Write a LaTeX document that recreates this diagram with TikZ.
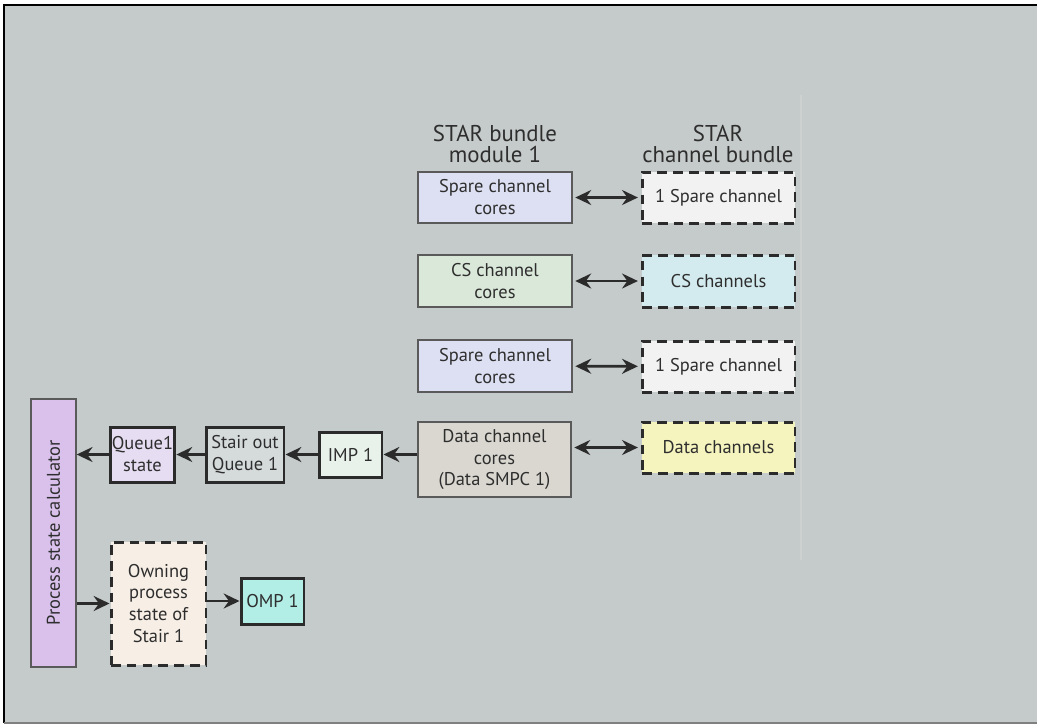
\documentclass[tikz,border=0pt]{standalone}
\usepackage{fontspec}
\setmainfont{PT Sans}
\usetikzlibrary{arrows.meta}

\definecolor{panelbg}{HTML}{C5CBCA}
\definecolor{faintline}{HTML}{CDD2D1}
\definecolor{boxgray}{HTML}{5A5A5A}
\definecolor{boxdark}{HTML}{2B2B2B}
\definecolor{txtgray}{HTML}{2E2E2E}
\definecolor{spareblue}{HTML}{DDE0F2}
\definecolor{csgreen}{HTML}{DAE8D9}
\definecolor{datataupe}{HTML}{DAD7D0}
\definecolor{sparewhite}{HTML}{F2F2F2}
\definecolor{cscyan}{HTML}{D3EAEE}
\definecolor{datayellow}{HTML}{F5F3BE}
\definecolor{calcviolet}{HTML}{D9C1EC}
\definecolor{queuelilac}{HTML}{E6DDF2}
\definecolor{stairgray}{HTML}{D5DADB}
\definecolor{impmint}{HTML}{E8F2EA}
\definecolor{owncream}{HTML}{F7EFE6}
\definecolor{ompaqua}{HTML}{B2EDE6}

\begin{document}
\begin{tikzpicture}[x=0.02cm,y=-0.02cm,
    thinbox/.style={draw=boxgray,line width=0.8pt,align=center,text=txtgray,
      inner sep=1pt,font=\fontsize{10.5}{12.5}\selectfont},
    thickbox/.style={thinbox,draw=boxdark,line width=1.7pt},
    dashbox/.style={thickbox,dash pattern=on 5.5pt off 3.5pt},
    heading/.style={align=center,text=txtgray,font=\fontsize{13}{12.5}\selectfont},
    arr/.style={-{Stealth[length=9pt,width=8.5pt,inset=3pt]},line width=1.5pt,draw=boxdark},
    dblarr/.style={arr,{Stealth[length=9pt,width=8.5pt,inset=3pt]}-{Stealth[length=9pt,width=8.5pt,inset=3pt]},
      shorten <=1.5pt,shorten >=1.5pt}
  ]
  \useasboundingbox (0,0) rectangle (1037,725);
  % panel
  \fill[panelbg] (4,5) rectangle (1037,723);
  \draw[line width=1.5pt] (4,723) -- (4,5) -- (1037,5);
  \draw[gray,line width=0.8pt] (4,723) -- (1037,723);
  \draw[faintline,line width=0.6pt] (801,95) -- (801,560);

  % column headings
  \node[heading] (hmod) at (495,144) {STAR bundle\\module 1};
  \node[heading] (hbun) at (718,144) {STAR\\channel bundle};

  % bundle module cores
  \node[thinbox,fill=spareblue,minimum width=3.08cm,minimum height=1.02cm] (spc1) at (495,197.5) {Spare channel\\cores};
  \node[thinbox,fill=csgreen,minimum width=3.08cm,minimum height=1.04cm] (csc) at (495,281) {CS channel\\cores};
  \node[thinbox,fill=spareblue,minimum width=3.08cm,minimum height=1.04cm] (spc2) at (495,366) {Spare channel\\cores};
  \node[thinbox,fill=datataupe,minimum width=3.06cm,minimum height=1.5cm] (dcc) at (494.5,459.5) {Data channel\\cores\\(Data SMPC 1)};

  % channel bundle
  \node[dashbox,fill=sparewhite,minimum width=3.06cm,minimum height=1.02cm] (spch1) at (718.5,197.5) {1 Spare channel};
  \node[dashbox,fill=cscyan,minimum width=3.06cm,minimum height=1.04cm] (csch) at (718.5,281) {CS channels};
  \node[dashbox,fill=sparewhite,minimum width=3.06cm,minimum height=1.02cm] (spch2) at (718.5,366.5) {1 Spare channel};
  \node[dashbox,fill=datayellow,minimum width=3.06cm,minimum height=1.02cm] (dch) at (718.5,447.5) {Data channels};

  % process chain
  \node[thinbox,fill=calcviolet,rotate=90,minimum width=5.36cm,minimum height=0.9cm] (psc) at (53.5,533) {Process state calculator};
  \node[thickbox,fill=queuelilac,minimum width=1.26cm,minimum height=1.1cm] (q1) at (142.5,454.5) {Queue1\\state};
  \node[thickbox,fill=stairgray,minimum width=1.56cm,minimum height=1.1cm] (soq) at (245,454.5) {Stair out\\Queue 1};
  \node[thickbox,fill=impmint,minimum width=1.26cm,minimum height=0.9cm] (imp) at (350.5,454.5) {IMP 1};
  \node[dashbox,fill=owncream,minimum width=1.9cm,minimum height=2.46cm] (own) at (158.5,603.5) {Owning\\process\\state of\\Stair 1};
  \node[thickbox,fill=ompaqua,minimum width=1.26cm,minimum height=0.92cm] (omp) at (272.5,601) {OMP 1};

  % connectors
  \draw[dblarr] (spc1) -- (spch1);
  \draw[dblarr] (csc) -- (csch);
  \draw[dblarr] (spc2) -- (spch2);
  \draw[dblarr] (dcc.east |- dch) -- (dch);
  \draw[arr] (dcc.west |- imp) -- (imp);
  \draw[arr] (imp) -- (soq);
  \draw[arr] (soq) -- (q1);
  \draw[arr] (q1) -- (q1 -| psc.south);
  \draw[arr] (psc.south |- own) -- (own);
  \draw[arr] (own.east |- omp) -- (omp);
\end{tikzpicture}
\end{document}
